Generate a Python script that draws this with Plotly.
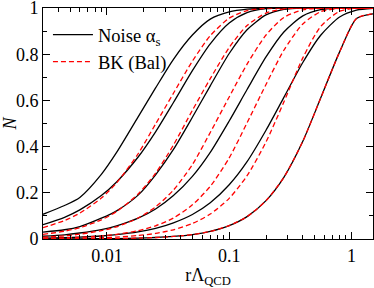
import math
import plotly.graph_objects as go

# r * Lambda_QCD grid
r = [0.003, 0.0045, 0.006, 0.009, 0.012, 0.018, 0.025, 0.035, 0.05, 0.07,
     0.1, 0.14, 0.2, 0.28, 0.4, 0.56, 0.8, 1.1, 1.5]

# Noise alpha_s (black solid), from left to right
noise_1 = [0.107, 0.145, 0.18, 0.28, 0.375, 0.529, 0.654, 0.778, 0.883, 0.952,
           0.983, 0.995, 0.999, 1.0, 1.0, 1.0, 1.0, 1.0, 1.0]
noise_2 = [0.062, 0.094, 0.126, 0.188, 0.247, 0.355, 0.464, 0.591, 0.729, 0.845,
           0.935, 0.980, 0.997, 1.0, 1.0, 1.0, 1.0, 1.0, 1.0]
noise_3 = [0.030, 0.040, 0.054, 0.090, 0.122, 0.190, 0.278, 0.388, 0.527, 0.663,
           0.803, 0.906, 0.970, 0.994, 1.0, 1.0, 1.0, 1.0, 1.0]
noise_4 = [0.012, 0.018, 0.026, 0.041, 0.057, 0.090, 0.130, 0.188, 0.271, 0.375,
           0.511, 0.647, 0.788, 0.896, 0.966, 0.993, 0.999, 1.0, 1.0]
noise_5 = [0.004, 0.0055, 0.0079, 0.013, 0.019, 0.031, 0.046, 0.070, 0.106, 0.157,
           0.235, 0.335, 0.471, 0.613, 0.764, 0.882, 0.961, 0.991, 0.999]
noise_6 = [0.0002, 0.0004, 0.0007, 0.0013, 0.002, 0.0038, 0.0065, 0.011, 0.019, 0.033,
           0.058, 0.097, 0.166, 0.267, 0.423, 0.61, 0.81, 0.955, 0.975]

# BK (Bal) (red dashed), from left to right
bk_1 = [0.049, 0.080, 0.112, 0.177, 0.243, 0.369, 0.498, 0.631, 0.770, 0.880,
        0.956, 0.989, 0.999, 1.0, 1.0, 1.0, 1.0, 1.0, 1.0]
bk_2 = [0.020, 0.034, 0.049, 0.083, 0.119, 0.195, 0.285, 0.407, 0.557, 0.694,
        0.829, 0.924, 0.978, 0.996, 1.0, 1.0, 1.0, 1.0, 1.0]
bk_3 = [0.008, 0.014, 0.021, 0.036, 0.053, 0.091, 0.139, 0.212, 0.322, 0.461,
        0.615, 0.757, 0.883, 0.959, 0.992, 0.999, 1.0, 1.0, 1.0]
bk_4 = [0.003, 0.005, 0.0076, 0.0135, 0.020, 0.036, 0.057, 0.091, 0.148, 0.228,
        0.351, 0.503, 0.669, 0.817, 0.931, 0.984, 0.998, 1.0, 1.0]
bk_5 = [0.001, 0.0019, 0.0029, 0.0054, 0.0082, 0.015, 0.024, 0.040, 0.067, 0.108,
        0.176, 0.274, 0.420, 0.593, 0.784, 0.920, 0.986, 0.999, 1.0]
bk_6 = [0.0002, 0.0004, 0.0007, 0.0013, 0.002, 0.0038, 0.0065, 0.011, 0.019, 0.033,
        0.058, 0.097, 0.166, 0.267, 0.423, 0.61, 0.81, 0.955, 0.975]

noise_curves = [noise_1, noise_2, noise_3, noise_4, noise_5, noise_6]
bk_curves = [bk_1, bk_2, bk_3, bk_4, bk_5, bk_6]

x_tickvals = [0.01, 0.1, 1]
x_ticktext = ["0.01", "0.1", "1"]
x_minor = [m * d for d in [0.001, 0.01, 0.1, 1] for m in range(2, 10)]
y_tickvals = [0, 0.2, 0.4, 0.6, 0.8, 1]
y_ticktext = ["0", "0.2", "0.4", "0.6", "0.8", "1"]
y_minor = [0.1, 0.3, 0.5, 0.7, 0.9]

FONT = "Liberation Serif"

fig = go.Figure()
for i, n in enumerate(noise_curves):
    fig.add_trace(go.Scatter(
        x=r, y=n, mode="lines", name="Noise α<sub>s</sub>",
        showlegend=(i == 0),
        line=dict(color="black", width=1.3, shape="spline", smoothing=0.7)))
for i, n in enumerate(bk_curves):
    fig.add_trace(go.Scatter(
        x=r, y=n, mode="lines", name="BK (Bal)",
        showlegend=(i == 0),
        line=dict(color="red", width=1.3, dash="5px,3px", shape="spline", smoothing=0.7)))

axis_common = dict(
    showline=True, linecolor="black", linewidth=1, mirror="ticks",
    ticks="inside", ticklen=7, tickwidth=1, tickcolor="black",
    showgrid=False, zeroline=False, automargin=False,
    ticklabeloverflow="allow",
    tickfont=dict(family=FONT, size=18, color="black"),
)

fig.update_layout(
    width=374, height=288,
    margin=dict(l=43, r=1, t=8, b=49),
    paper_bgcolor="white", plot_bgcolor="white",
    font=dict(family=FONT, size=18, color="black"),
    showlegend=True,
    legend=dict(x=0.015, y=0.965, xanchor="left", yanchor="top",
                bgcolor="rgba(255,255,255,0)", borderwidth=0,
                font=dict(family=FONT, size=18.5), itemwidth=40,
                tracegroupgap=0),
    xaxis=dict(
        type="log", range=[math.log10(0.003), math.log10(1.5)],
        tickmode="array", tickvals=x_tickvals, ticktext=x_ticktext,
        minor=dict(tickmode="array", tickvals=x_minor, ticks="inside",
                   ticklen=4, tickwidth=1, tickcolor="black"),
        title=dict(text="rΛ<sub>QCD</sub>", standoff=2,
                   font=dict(family=FONT, size=18)),
        **axis_common),
    yaxis=dict(
        range=[0, 1],
        tickmode="array", tickvals=y_tickvals, ticktext=y_ticktext,
        minor=dict(tickmode="array", tickvals=y_minor, ticks="inside",
                   ticklen=4, tickwidth=1, tickcolor="black"),
        title=dict(text="<i>N</i>", standoff=4,
                   font=dict(family=FONT, size=18)),
        **axis_common),
)

fig.write_html("out.html",
               config={"displayModeBar": False},
               post_script="document.body.style.margin='0';document.body.style.padding='0';")
